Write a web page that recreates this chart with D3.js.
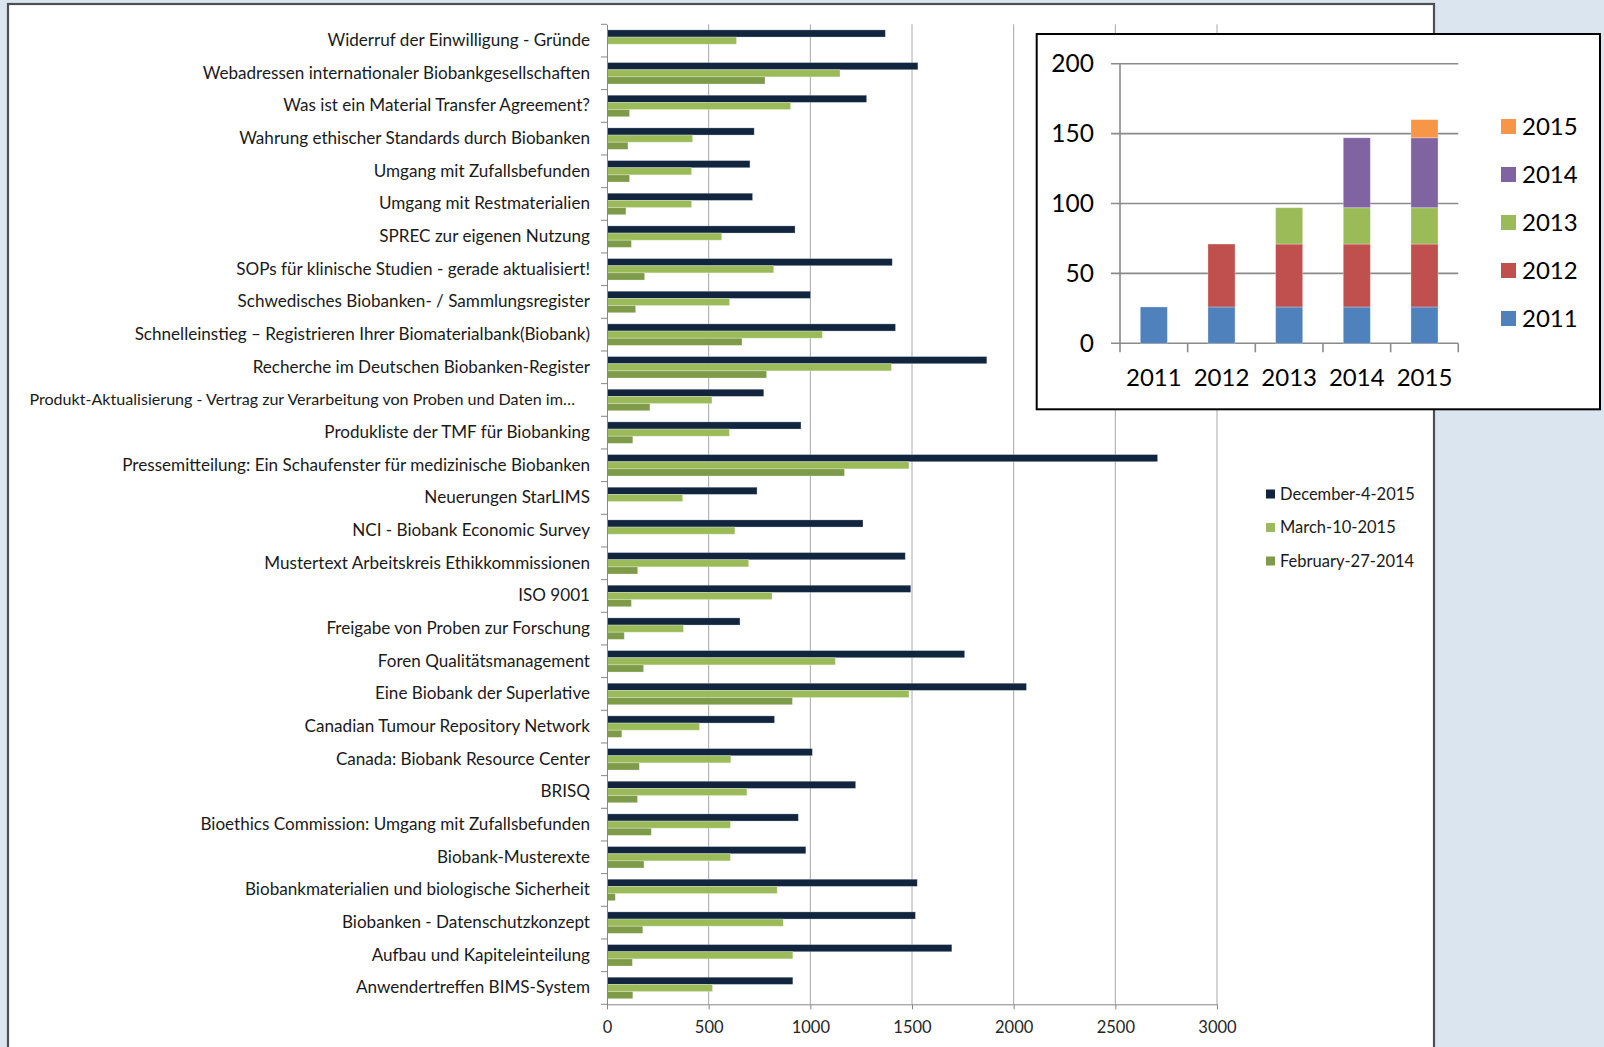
<!DOCTYPE html>
<html>
<head>
<meta charset="utf-8">
<script src="https://cdn.jsdelivr.net/npm/d3@7"></script>
<style>
  html, body { margin: 0; padding: 0; background: #dae5ef; }
  svg { display: block; }
  text { font-family: Lato, "Open Sans", sans-serif; }
</style>
</head>
<body>
<svg id="chart" width="1604" height="1047"></svg>
<script>
// ---------- Main chart data ----------
const categories = [
  "Widerruf der Einwilligung - Gründe",
  "Webadressen internationaler Biobankgesellschaften",
  "Was ist ein Material Transfer Agreement?",
  "Wahrung ethischer Standards durch Biobanken",
  "Umgang mit Zufallsbefunden",
  "Umgang mit Restmaterialien",
  "SPREC zur eigenen Nutzung",
  "SOPs für klinische Studien - gerade aktualisiert!",
  "Schwedisches Biobanken- / Sammlungsregister",
  "Schnelleinstieg – Registrieren Ihrer Biomaterialbank(Biobank)",
  "Recherche im Deutschen Biobanken-Register",
  "Produkt-Aktualisierung - Vertrag zur Verarbeitung von Proben und Daten im…",
  "Produkliste der TMF für Biobanking",
  "Pressemitteilung: Ein Schaufenster für medizinische Biobanken",
  "Neuerungen StarLIMS",
  "NCI - Biobank Economic Survey",
  "Mustertext Arbeitskreis Ethikkommissionen",
  "ISO 9001",
  "Freigabe von Proben zur Forschung",
  "Foren Qualitätsmanagement",
  "Eine Biobank der Superlative",
  "Canadian Tumour Repository Network",
  "Canada: Biobank Resource Center",
  "BRISQ",
  "Bioethics Commission: Umgang mit Zufallsbefunden",
  "Biobank-Musterexte",
  "Biobankmaterialien und biologische Sicherheit",
  "Biobanken - Datenschutzkonzept",
  "Aufbau und Kapiteleinteilung",
  "Anwendertreffen BIMS-System"
];
const seriesNames = ["December-4-2015", "March-10-2015", "February-27-2014"];
const dec2015 = [1369,1529,1277,724,703,716,925,1403,1001,1419,1868,771,954,2708,738,1259,1467,1494,654,1759,2063,824,1010,1223,941,978,1526,1517,1696,914];
const mar2015 = [637,1146,903,421,416,416,564,820,603,1059,1399,516,602,1485,372,629,697,812,376,1123,1485,455,609,688,607,607,837,867,914,519];
const feb2014 = [0,777,111,103,111,93,120,185,141,664,785,211,127,1168,0,5,151,120,85,180,912,73,159,150,218,182,41,176,125,127];
const xTicks = [0, 500, 1000, 1500, 2000, 2500, 3000];

// ---------- Inset chart data ----------
const years = ["2011", "2012", "2013", "2014", "2015"];
const cohort2011 = [26, 26, 26, 26, 26];
const cohort2012 = [0, 45, 45, 45, 45];
const cohort2013 = [0, 0, 26, 26, 26];
const cohort2014 = [0, 0, 0, 50, 50];
const cohort2015 = [0, 0, 0, 0, 13];
const cohortNames = ["2011", "2012", "2013", "2014", "2015"];
const insetTicks = [0, 50, 100, 150, 200];

// ---------- Styles ----------
const mainColors = ["#11253f", "#9bbb59", "#7e9b49"];
const cohortColors = ["#4f81bd", "#c0504d", "#9bbb59", "#8064a2", "#f79646"];

const svg = d3.select("#chart");

// background + white panel
svg.append("rect").attr("x", 0).attr("y", 0).attr("width", 1604).attr("height", 1047).attr("fill", "#dae5ef");
svg.append("rect").attr("x", 8).attr("y", 4).attr("width", 1426).attr("height", 1100)
  .attr("fill", "#ffffff").attr("stroke", "#4d4f52").attr("stroke-width", 2.2);

// ---------- Main chart ----------
const x = d3.scaleLinear().domain([0, 3000]).range([607, 1217]);
const y = d3.scaleBand().domain(categories).range([24.3, 1004.3]);
const ySub = d3.scaleBand().domain(seriesNames).range([0, y.bandwidth()]).paddingOuter(0.78);

const main = svg.append("g");

// gridlines
main.append("g").selectAll("line").data(xTicks.filter(d => d > 0)).join("line")
  .attr("x1", d => x(d)).attr("x2", d => x(d))
  .attr("y1", 24.3).attr("y2", 1004.3)
  .attr("stroke", "#a8a8a8").attr("stroke-width", 1);

// bars
const table = categories.map((c, i) => ({ cat: c, vals: [dec2015[i], mar2015[i], feb2014[i]] }));
const groups = main.append("g").selectAll("g").data(table).join("g")
  .attr("transform", d => `translate(0,${y(d.cat)})`);
groups.selectAll("rect").data(d => d.vals.map((v, j) => ({ v, s: seriesNames[j], j }))).join("rect")
  .attr("x", x(0))
  .attr("y", d => ySub(d.s))
  .attr("width", d => Math.max(0, x(d.v) - x(0)))
  .attr("height", ySub.bandwidth())
  .attr("fill", d => mainColors[d.j])
  .attr("stroke", "rgba(255,255,255,0.35)").attr("stroke-width", 0.8);

// x axis
const xAxis = main.append("g").attr("transform", "translate(0,1004.3)")
  .call(d3.axisBottom(x).tickValues(xTicks).tickFormat(d3.format("d"))
    .tickSize(5).tickSizeOuter(0).tickPadding(11.5));
xAxis.select(".domain").attr("stroke", "#868686");
xAxis.selectAll(".tick line").attr("stroke", "#868686");
xAxis.selectAll("text").attr("font-size", 16.5).attr("fill", "#262626")
  .style("font-family", "Lato, sans-serif");

// y axis
const yAxis = main.append("g").attr("transform", "translate(607,0)")
  .call(d3.axisLeft(y).tickSize(0).tickSizeOuter(0).tickPadding(17));
yAxis.select(".domain").attr("stroke", "#868686");
yAxis.selectAll("text")
  .attr("font-size", d => d.endsWith("…") ? 16.1 : 17.1)
  .attr("fill", "#1a1a1a")
  .style("font-family", "Lato, sans-serif")
  .attr("dx", d => d.endsWith("…") ? -15 : 0);
// tick marks at band boundaries
const boundaries = categories.map(c => y(c)).concat([y.range()[1]]);
main.append("g").selectAll("line").data(boundaries).join("line")
  .attr("x1", 601).attr("x2", 607).attr("y1", d => d).attr("y2", d => d)
  .attr("stroke", "#868686");

// main legend
const leg = main.append("g");
seriesNames.forEach((s, i) => {
  const cy = 494 + i * 33.5;
  leg.append("rect").attr("x", 1266).attr("y", cy - 4.5).attr("width", 9).attr("height", 9).attr("fill", mainColors[i]);
  leg.append("text").attr("x", 1280).attr("y", cy).attr("dy", "0.35em")
    .attr("font-size", 16.5).attr("fill", "#1a1a1a").text(s);
});

// ---------- Inset chart ----------
const inset = svg.append("g");
inset.append("rect").attr("x", 1036.7).attr("y", 34).attr("width", 563.3).attr("height", 375.3)
  .attr("fill", "#ffffff").attr("stroke", "#000000").attr("stroke-width", 2);

const yI = d3.scaleLinear().domain([0, 200]).range([343.3, 63.7]);
const xI = d3.scaleBand().domain(years).range([1120, 1458.3]).paddingInner(0.6).paddingOuter(0.3);

// gridlines (with left tick)
inset.append("g").selectAll("line").data(insetTicks).join("line")
  .attr("x1", 1111).attr("x2", 1458.3)
  .attr("y1", d => yI(d)).attr("y2", d => yI(d))
  .attr("stroke", "#8a8a8a").attr("stroke-width", 1.6);
// y axis line
inset.append("line").attr("x1", 1120).attr("x2", 1120).attr("y1", yI(200)).attr("y2", yI(0) + 9)
  .attr("stroke", "#8a8a8a").attr("stroke-width", 1.6);
// x ticks at band boundaries
const xiBounds = years.map((yr, i) => 1120 + i * xI.step()).concat([1458.3]);
inset.append("g").selectAll("line").data(xiBounds.slice(1)).join("line")
  .attr("x1", d => d).attr("x2", d => d).attr("y1", yI(0)).attr("y2", yI(0) + 9)
  .attr("stroke", "#8a8a8a").attr("stroke-width", 1.6);

// stacked bars
const stackRows = years.map((yr, i) => ({
  year: yr, "2011": cohort2011[i], "2012": cohort2012[i], "2013": cohort2013[i],
  "2014": cohort2014[i], "2015": cohort2015[i]
}));
const stacked = d3.stack().keys(cohortNames)(stackRows);
inset.append("g").selectAll("g").data(stacked).join("g")
  .attr("fill", (d, i) => cohortColors[i])
  .selectAll("rect").data(d => d.filter(p => p[1] - p[0] > 0)).join("rect")
  .attr("x", d => xI(d.data.year))
  .attr("y", d => yI(d[1]))
  .attr("width", xI.bandwidth())
  .attr("height", d => yI(d[0]) - yI(d[1]))
  .attr("stroke", "rgba(255,255,255,0.35)").attr("stroke-width", 0.8);

// inset y labels
inset.append("g").selectAll("text").data(insetTicks).join("text")
  .attr("x", 1094).attr("y", d => yI(d)).attr("dy", "0.35em")
  .attr("text-anchor", "end").attr("font-size", 24.5).attr("fill", "#000").text(d => d);
// inset x labels
inset.append("g").selectAll("text").data(years).join("text")
  .attr("x", d => xI(d) + xI.bandwidth() / 2).attr("y", 386)
  .attr("text-anchor", "middle").attr("font-size", 24).attr("fill", "#000").text(d => d);

// inset legend (reverse order)
const legI = inset.append("g");
cohortNames.slice().reverse().forEach((n, i) => {
  const cy = 126.5 + i * 48;
  const ci = cohortNames.indexOf(n);
  legI.append("rect").attr("x", 1501).attr("y", cy - 7.5).attr("width", 15).attr("height", 15).attr("fill", cohortColors[ci]);
  legI.append("text").attr("x", 1522).attr("y", cy).attr("dy", "0.36em")
    .attr("font-size", 24).attr("fill", "#000").text(n);
});
</script>
</body>
</html>
